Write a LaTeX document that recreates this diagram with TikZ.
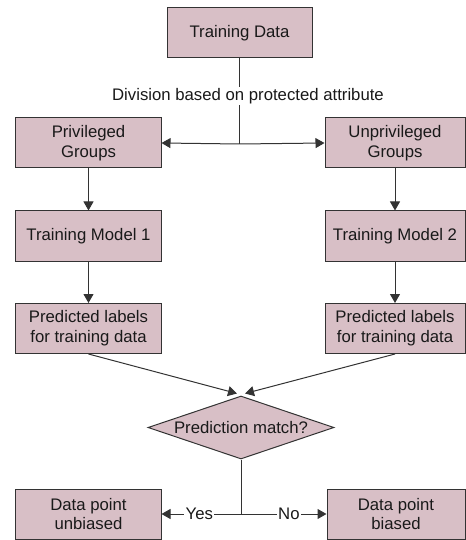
\documentclass[tikz,border=0pt]{standalone}
\usepackage{fontspec}
\setmainfont{Liberation Sans}
\usepackage{tikz}
\usetikzlibrary{
	shapes.geometric,
	arrows.meta,
	calc}
\definecolor{boxpink}{HTML}{D8BFC6}
\definecolor{edgegray}{HTML}{333333}

\begin{document}
\begin{tikzpicture}[x=1bp,y=-1bp,every text node part/.style={align=center},
    font=\fontsize{16.8}{20}\selectfont]
  \tikzstyle{block}=[rectangle,draw=edgegray,fill=boxpink,line width=1bp,
    minimum width=145bp,minimum height=50bp,inner sep=0pt,text=black!90]
  \tikzstyle{decision}=[diamond,draw=edgegray,fill=boxpink,line width=1bp,
    aspect=3,minimum width=186bp,minimum height=63bp,inner sep=0pt,text=black!90]
  \tikzstyle{flow}=[draw=edgegray,line width=1bp,
    -{Triangle[length=9bp,width=10bp]}]
  \tikzstyle{tag}=[fill=white,inner sep=1.5bp,text=black!90]

  \useasboundingbox (0,0) rectangle (466,540);

  \node [block] (data) at (239.5,33) {Training Data};
  \node [block] (priv) at (88.5,143) {Privileged\\Groups};
  \node [block,minimum width=140bp] (unpriv) at (395,143) {Unprivileged\\Groups};
  \node [block] (model1) at (88.5,236) {Training Model 1};
  \node [block,minimum width=140bp] (model2) at (395,236) {Training Model 2};
  \node [block] (pred1) at (88.5,328.5) {Predicted labels\\for training data};
  \node [block,minimum width=140bp] (pred2) at (395,328.5) {Predicted labels\\for training data};
  \node [decision] (match) at (241,427.5) {Prediction match?};
  \node [block] (unbiased) at (88.5,514) {Data point\\unbiased};
  \node [block,minimum width=138bp] (biased) at (396,514) {Data point\\biased};

  \coordinate (split) at (239.5,144);
  \coordinate (fork) at (241,514);

  \draw [draw=edgegray,line width=1bp] (data.south) -- (split);
  \node [tag] (divide) at (248,96) {Division based on protected attribute};
  \draw [flow] (split) -- (priv.east);
  \draw [flow] (split) -- (unpriv.west);

  \draw [flow] (priv) -- (model1);
  \draw [flow] (unpriv) -- (model2);
  \draw [flow] (model1) -- (pred1);
  \draw [flow] (model2) -- (pred2);

  \draw [flow] (pred1.south) -- ($(match.north)+(-4,-2)$);
  \draw [flow] (pred2.south) -- ($(match.north)+(4,-2)$);

  \draw [draw=edgegray,line width=1bp] (match.south) -- (fork);
  \draw [flow] (fork) -- node [tag,pos=0.525] (yes) {Yes} (unbiased.east);
  \draw [flow] (fork) -- node [tag,pos=0.56] (no) {No} (biased.west);
\end{tikzpicture}
\end{document}
